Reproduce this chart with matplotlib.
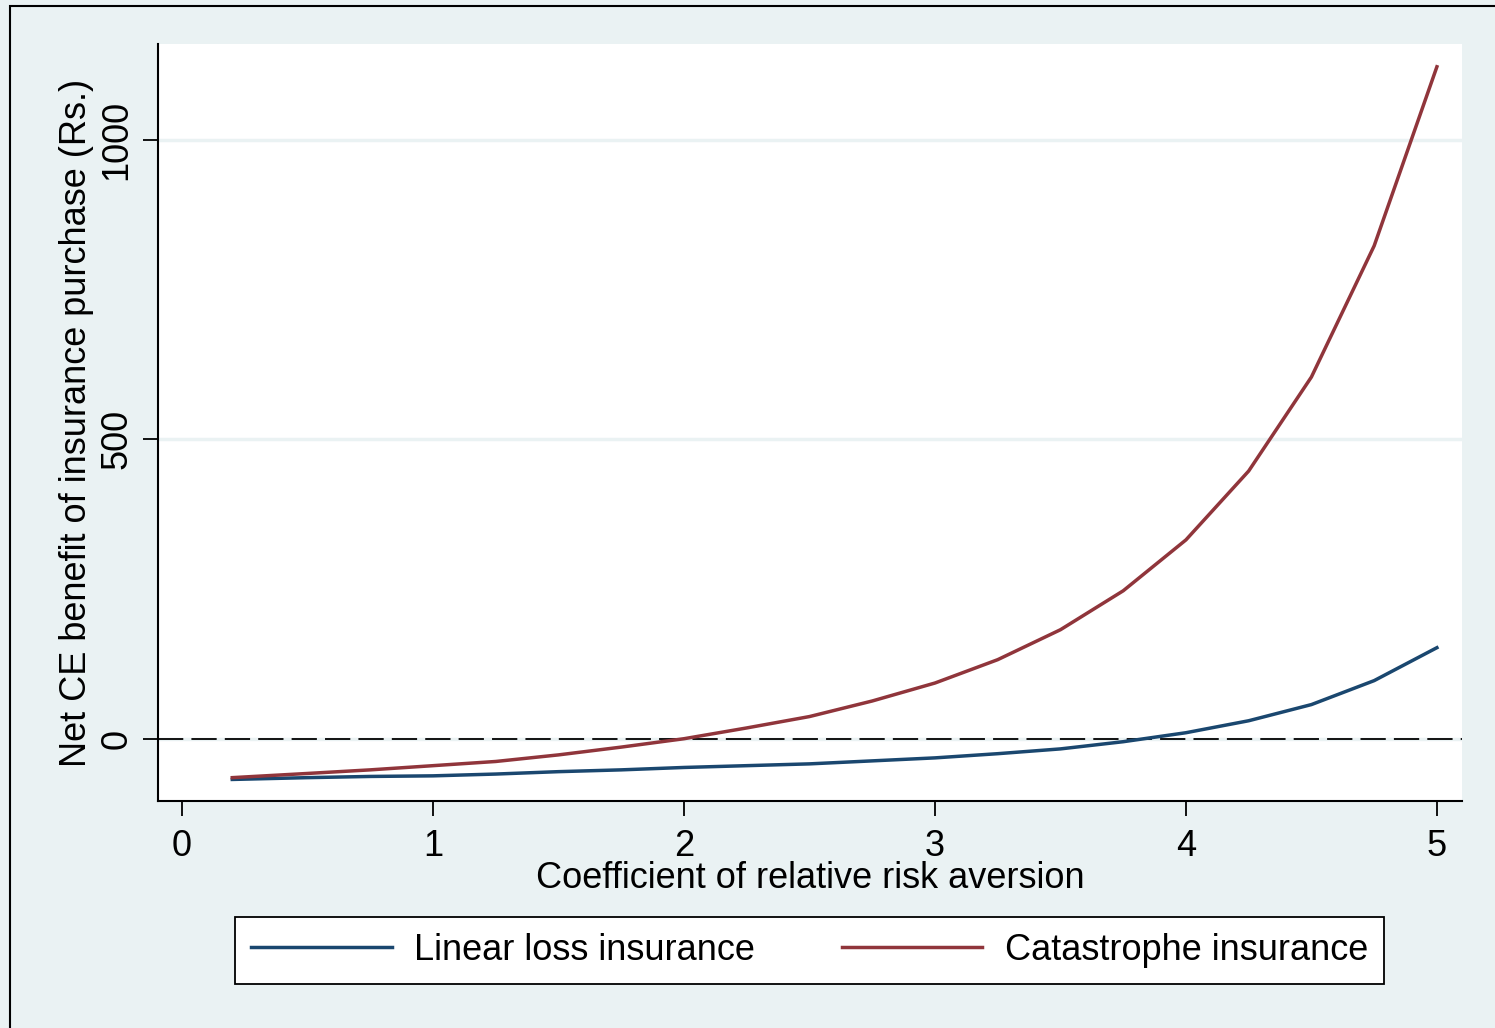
import matplotlib
matplotlib.use("Agg")
import matplotlib.pyplot as plt
from matplotlib.patches import Rectangle

# data
rra = [0.2, 0.5, 0.75, 1.0, 1.25, 1.5, 1.75, 2.0, 2.25, 2.5, 2.75,
       3.0, 3.25, 3.5, 3.75, 4.0, 4.25, 4.5, 4.75, 5.0]
linear_loss = [-68, -65, -63, -62, -59, -55, -52, -48, -45, -42, -37,
               -32, -25, -17, -5, 10, 30, 57, 97, 152]
catastrophe = [-65, -58, -52, -45, -38, -27, -14, 0, 18, 37, 63,
               93, 132, 182, 247, 332, 447, 604, 823, 1122]

x_ticks = [0, 1, 2, 3, 4, 5]
y_ticks = [0, 500, 1000]

BG = "#EAF2F3"
NAVY = "#1A476F"
MAROON = "#90353B"
FS = 26

plt.rcParams['font.family'] = ['Liberation Sans', 'DejaVu Sans']

fig = plt.figure(figsize=(14.95, 10.28), dpi=100, facecolor=BG)
# outer frame
fig.patches.append(Rectangle((10 / 1495, -0.01), 1.02, 1 - 6 / 1028 + 0.01,
                             transform=fig.transFigure, fill=False,
                             edgecolor="black", linewidth=1.5))

ax = fig.add_axes([158 / 1495, 1 - 801 / 1028, (1462 - 158) / 1495, (801 - 44) / 1028])
ax.set_facecolor("white")

for yt in y_ticks:
    ax.axhline(yt, color=BG, linewidth=2.5, zorder=1)
ax.axhline(0, color="black", linewidth=1.3, dashes=(14, 4.5), zorder=2)

ax.plot(rra, linear_loss, color=NAVY, linewidth=2.5, label="Linear loss insurance", zorder=3)
ax.plot(rra, catastrophe, color=MAROON, linewidth=2.5, label="Catastrophe insurance", zorder=3)

ax.set_xlim(-0.096, 5.1)
ax.set_ylim(-104, 1160)
ax.set_xticks(x_ticks)
ax.set_yticks(y_ticks)
ax.set_yticklabels([str(v) for v in y_ticks], rotation=90, va="center")

for side in ["top", "right"]:
    ax.spines[side].set_visible(False)
for side in ["left", "bottom"]:
    ax.spines[side].set_linewidth(1.5)
ax.tick_params(axis="both", length=11, width=1.3, labelsize=FS, pad=6)
ax.tick_params(axis="x", pad=9)

ax.set_xlabel("Coefficient of relative risk aversion", fontsize=FS, labelpad=-2)
ax.set_ylabel("Net CE benefit of insurance purchase (Rs.)", fontsize=FS, labelpad=4)

leg = fig.legend(loc="center", bbox_to_anchor=((228 + 1391) / 2 / 1495, 1 - (917 + 984) / 2 / 1028),
                 ncol=2, fontsize=FS, frameon=True, fancybox=False,
                 handlelength=3.9, handletextpad=0.62, columnspacing=2.4,
                 borderpad=0.45, borderaxespad=0, edgecolor="black",
                 facecolor="white", framealpha=1)
leg.get_frame().set_linewidth(1.3)

fig.savefig("out.png", dpi=100, facecolor=BG)
